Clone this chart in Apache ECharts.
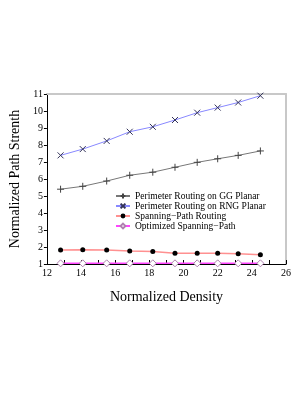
<!DOCTYPE html>
<html><head><meta charset="utf-8">
<script src="https://cdn.jsdelivr.net/npm/echarts@6/dist/echarts.min.js"></script>
<style>html,body{margin:0;padding:0;background:#fff}#c{width:307px;height:398px}</style>
</head><body><div id="c"></div>
<script>
const density = [12.8, 14.1, 15.5, 16.85, 18.2, 19.5, 20.8, 22.0, 23.2, 24.5];
const ggPlanar = [5.4, 5.57, 5.88, 6.22, 6.4, 6.69, 6.98, 7.19, 7.39, 7.65];
const rngPlanar = [7.39, 7.76, 8.24, 8.78, 9.07, 9.47, 9.9, 10.2, 10.5, 10.9];
const spanning = [1.82, 1.84, 1.82, 1.76, 1.73, 1.63, 1.63, 1.63, 1.61, 1.55];
const optimized = [1.04, 1.04, 1.04, 1.04, 1.04, 1.04, 1.04, 1.04, 1.04, 1.04];
const seriesNames = ['Perimeter Routing on GG Planar', 'Perimeter Routing on RNG Planar', 'Spanning\u2212Path Routing', 'Optimized Spanning\u2212Path'];

const pair = ys => density.map((x, i) => [x, ys[i]]);
const font = "'Liberation Serif', 'DejaVu Serif', serif";
const plus = 'path://M0,5L10,5M5,0L5,10';
const cross = 'path://M0,0L10,10M10,0L0,10';

const chart = echarts.init(document.getElementById('c'), null, {renderer: 'canvas'});
chart.setOption({
  animation: false,
  grid: {left: 37, top: 94, right: 21, bottom: 134},
  legend: {
    left: 115, top: 191, orient: 'vertical', itemGap: 0, itemWidth: 14, itemHeight: 6, padding: 0,
    textStyle: {fontFamily: font, fontSize: 9.5, lineHeight: 9, height: 9, color: '#000', padding: [0, 0, 0, 0]},
    data: seriesNames
  },
  xAxis: [{
    type: 'value', min: 12, max: 26, interval: 2,
    name: 'Normalized Density', nameLocation: 'middle', nameGap: 26,
    nameTextStyle: {fontFamily: font, fontSize: 14, color: '#000'},
    axisLine: {lineStyle: {color: '#000', width: 1}},
    axisTick: {inside: true, length: 4, lineStyle: {color: '#000'}},
    minorTick: {show: true, splitNumber: 2, length: 4, lineStyle: {color: '#000'}},
    axisLabel: {fontFamily: font, fontSize: 10, color: '#000', margin: 4},
    splitLine: {show: false}
  }, {
    type: 'value', min: 12, max: 26, position: 'top',
    axisLine: {show: true, lineStyle: {color: '#c8c8c8', width: 2}},
    axisTick: {show: false}, axisLabel: {show: false}, splitLine: {show: false}
  }],
  yAxis: [{
    type: 'value', min: 1, max: 11, interval: 1,
    name: 'Normalized Path Strenth', nameLocation: 'middle', nameGap: 18,
    nameTextStyle: {fontFamily: font, fontSize: 14, color: '#000'},
    axisLine: {show: true, lineStyle: {color: '#000', width: 1}},
    axisTick: {show: true, length: 3, lineStyle: {color: '#000'}},
    axisLabel: {fontFamily: font, fontSize: 10, color: '#000', margin: 4},
    splitLine: {show: false}
  }, {
    type: 'value', min: 1, max: 11, position: 'right',
    axisLine: {show: true, lineStyle: {color: '#c8c8c8', width: 2}},
    axisTick: {show: false}, axisLabel: {show: false}, splitLine: {show: false}
  }],
  series: [{
    name: seriesNames[0], type: 'line', data: pair(ggPlanar),
    symbol: plus, symbolSize: 7,
    lineStyle: {color: '#777', width: 1},
    itemStyle: {color: '#555', borderColor: '#444', borderWidth: 1}
  }, {
    name: seriesNames[1], type: 'line', data: pair(rngPlanar),
    symbol: cross, symbolSize: 6,
    lineStyle: {color: '#8888ff', width: 1},
    itemStyle: {color: '#5555aa', borderColor: '#33335a', borderWidth: 1}
  }, {
    name: seriesNames[2], type: 'line', data: pair(spanning),
    symbol: 'circle', symbolSize: 5,
    lineStyle: {color: '#ff9090', width: 1.5},
    itemStyle: {color: '#000', borderColor: '#000', borderWidth: 0}
  }, {
    name: seriesNames[3], type: 'line', data: pair(optimized),
    symbol: 'diamond', symbolSize: 7,
    lineStyle: {color: '#ff44ff', width: 1.5},
    itemStyle: {color: '#fff', borderColor: '#b080b0', borderWidth: 1}
  }]
});
</script></body></html>
